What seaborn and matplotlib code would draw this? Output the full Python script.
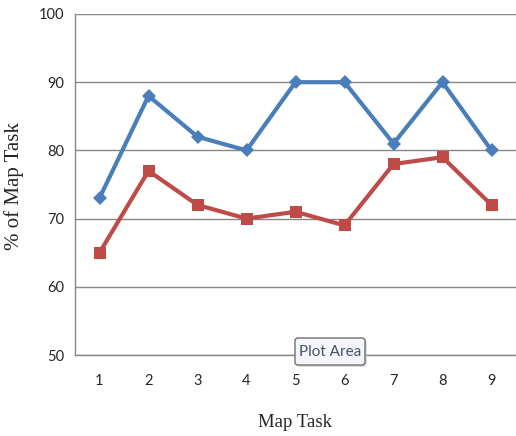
import matplotlib
matplotlib.use("Agg")
import matplotlib.pyplot as plt
from matplotlib.patches import FancyBboxPatch
import seaborn as sns
import pandas as pd

# Map task numbers and percentage scores for each group
tasks = [1, 2, 3, 4, 5, 6, 7, 8, 9]
series_1 = [73, 88, 82, 80, 90, 90, 81, 90, 80]
series_2 = [65, 77, 72, 70, 71, 69, 78, 79, 72]
y_ticks = [50, 60, 70, 80, 90, 100]

df = pd.DataFrame({
    "task": tasks * 2,
    "pct": series_1 + series_2,
    "series": ["Series 1"] * len(tasks) + ["Series 2"] * len(tasks),
})

sns.set_style("white")
W, H = 516, 436
fig = plt.figure(figsize=(W / 100, H / 100), dpi=100)
ax = fig.add_axes([75 / W, 1 - 355 / H, 441 / W, 341 / H])

sns.lineplot(
    data=df, x="task", y="pct", hue="series", style="series",
    markers={"Series 1": "D", "Series 2": "s"}, dashes=False,
    palette={"Series 1": "#4A7EBB", "Series 2": "#BE4B48"},
    linewidth=3, markersize=9, markeredgewidth=0, legend=False, ax=ax,
)
# Diamonds a little smaller than the squares
ax.lines[0].set_markersize(7.5)

ax.set_xlim(0.5, 9.5)
ax.set_ylim(50, 100)
ax.set_yticks(y_ticks)
ax.set_yticklabels([str(v) for v in y_ticks], fontfamily="Lato", fontsize=10.5)

# Category labels sit between boundary tick marks
ax.set_xticks(tasks)
ax.set_xticklabels([str(t) for t in tasks], fontfamily="Lato", fontsize=10.5)
ax.set_xticks([t + 0.5 for t in [0] + tasks], minor=True)
ax.tick_params(axis="x", which="major", length=0, pad=14)
ax.tick_params(axis="x", which="minor", length=5, color="#868686", direction="out", width=1)
ax.tick_params(axis="y", length=5, color="#868686", direction="out", width=1, pad=3)

ax.grid(axis="y", color="#868686", linewidth=1)
ax.set_axisbelow(True)
for side in ["top", "right"]:
    ax.spines[side].set_visible(False)
for side in ["left", "bottom"]:
    ax.spines[side].set_color("#868686")
    ax.spines[side].set_linewidth(1)

ax.set_xlabel("Map Task", fontfamily="Liberation Serif", fontsize=13.5)
ax.xaxis.set_label_coords(0.5, (355 - 422) / 341)
ax.xaxis.label.set_va("center")
ax.set_ylabel("% of Map Task", fontfamily="Liberation Serif", fontsize=15)
ax.yaxis.set_label_coords((14 - 75) / 441, (355 - 186) / 341)
ax.yaxis.label.set_va("center")

# Hover tooltip over the plot area
bx, by, bw, bh = 295, 338, 70, 27
shadow = FancyBboxPatch(((bx + 2) / W, 1 - (by + bh + 2) / H), bw / W, bh / H,
                        boxstyle="round,pad=0,rounding_size=0.006",
                        transform=fig.transFigure, fc="#C8C8C8", ec="none", alpha=0.6)
box = FancyBboxPatch((bx / W, 1 - (by + bh) / H), bw / W, bh / H,
                     boxstyle="round,pad=0,rounding_size=0.006",
                     transform=fig.transFigure, fc="#F3F5FB", ec="#6E6E6E", lw=1)
fig.patches.extend([shadow, box])
fig.text((bx + bw / 2) / W, 1 - (by + bh / 2) / H, "Plot Area", fontfamily="Lato",
         fontsize=11, color="#4A5468", ha="center", va="center")

fig.savefig("out.png", dpi=100)
